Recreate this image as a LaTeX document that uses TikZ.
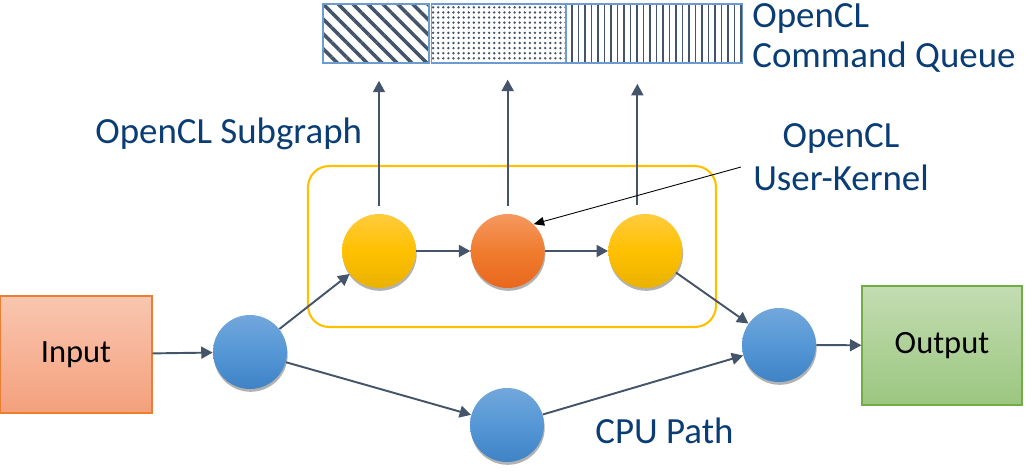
\documentclass[tikz,border=0pt]{standalone}
\usepackage{fontspec}
\setmainfont{Carlito}
\usepackage{xcolor}
\usepackage{tikz}
\usetikzlibrary{arrows.meta,positioning,shadows,patterns.meta}
\definecolor{clnavy}{HTML}{0B3D75}
\definecolor{clslate}{HTML}{44546A}
\definecolor{clframe}{HTML}{6A9BD1}
\definecolor{clgold}{HTML}{FFC000}
\definecolor{clgoldtop}{HTML}{FFCB3D}
\definecolor{clgoldbot}{HTML}{E9B200}
\definecolor{clrust}{HTML}{F07C30}
\definecolor{clrusttop}{HTML}{F5985F}
\definecolor{clrustbot}{HTML}{E8671D}
\definecolor{clsky}{HTML}{5597D6}
\definecolor{clskytop}{HTML}{72A7DB}
\definecolor{clskybot}{HTML}{3F83C6}
\definecolor{clorange}{HTML}{ED7D31}
\definecolor{clsalmon}{HTML}{F4A07C}
\definecolor{clgreen}{HTML}{70AD47}
\definecolor{clleaf}{HTML}{9BC67F}

\begin{document}
\begin{tikzpicture}[
  x=0.02cm, y=-0.02cm,
  node distance=1.1cm,
  ball/.style={circle, minimum size=1.48cm, inner sep=0pt,
               top color=#1top, bottom color=#1bot, middle color=#1,
               drop shadow={shadow xshift=0.4pt, shadow yshift=-1.6pt,
                            opacity=0.3, fill=black}},
  io/.style 2 args={rectangle, draw=#1, line width=0.7pt,
               top color=#2!60, bottom color=#2,
               font=\fontsize{18.5}{22}\selectfont},
  slot/.style={rectangle, draw=clframe, line width=0.7pt, inner sep=0pt,
               minimum height=1.18cm, pattern color=clslate},
  heading/.style={inner sep=0pt, text=clnavy,
               font=\fontsize{21}{22.7}\selectfont},
  link/.style={-{Triangle[length=6.5pt, width=6.8pt]}, line width=1.1pt, clslate},
]

\useasboundingbox (0,0) rectangle (1028,471);

% Command queue
\node[slot, minimum width=2.12cm,
      pattern={Lines[angle=-45, distance=6pt, line width=2pt]}] (q1) at (376,33.5) {};
\node[slot, minimum width=2.68cm, right=0pt of q1,
      pattern={Dots[distance=2.9pt, radius=0.75pt]}] (q2) {};
\node[slot, minimum width=3.52cm, right=0pt of q2,
      pattern={Lines[angle=90, distance=3.7pt, line width=1pt]}] (q3) {};
\node[heading, anchor=base west, align=left] (ql) at (752,67) {OpenCL\\Command Queue};

% OpenCL subgraph
\node[rectangle, draw=clgold, line width=1.2pt, rounded corners=12pt,
      minimum width=8.16cm, minimum height=3.22cm] (sub) at (512,246.5) {};
\node[heading, anchor=base west] (sl) at (95,143) {OpenCL Subgraph};
\node[ball=clgold] (y1) at (379,251) {};
\node[ball=clrust, right=1.08cm of y1] (o) {};
\node[ball=clgold, right=1.26cm of o] (y3) {};
\node[heading, anchor=base, align=center,
      font=\fontsize{21}{24.4}\selectfont] (kl) at (841,190) {OpenCL\\User-Kernel};
\coordinate (kp) at (741,167);

% CPU side
\node[io={clorange}{clsalmon}, minimum width=3.04cm, minimum height=2.34cm] (in) at (76,354.5) {Input};
\node[ball=clsky] (a) at (250,352) {};
\node[ball=clsky] (b) at (507,425) {};
\node[ball=clsky] (c) at (779,345) {};
\node[io={clgreen}{clleaf}, minimum width=3.2cm, minimum height=2.38cm] (out) at (942,345.5) {Output};
\node[heading, anchor=base west] (cl) at (595,443) {CPU Path};

% Arrows
\draw[link] (in) -- (a);
\draw[link] (a) -- (y1);
\draw[link] (y1) -- (o);
\draw[link] (o) -- (y3);
\draw[link] (y3) -- (c);
\draw[link] (a) -- (b);
\draw[link] (b) -- (c);
\draw[link] (c) -- (out);
\draw[link, shorten <=0.16cm, shorten >=0.32cm] (y1.north) -- (y1.north |- q1.south);
\draw[link, shorten <=0.16cm, shorten >=0.32cm] (o.north) -- (o.north |- q2.south);
\draw[link, shorten <=0.18cm, shorten >=0.4cm] ([xshift=-0.16cm]y3.north) -- ([xshift=-0.16cm]y3.north |- q3.south);
\draw[-{Triangle[length=6pt, width=5pt]}, line width=0.5pt, black] (kp) -- (o.46);

\end{tikzpicture}
\end{document}
